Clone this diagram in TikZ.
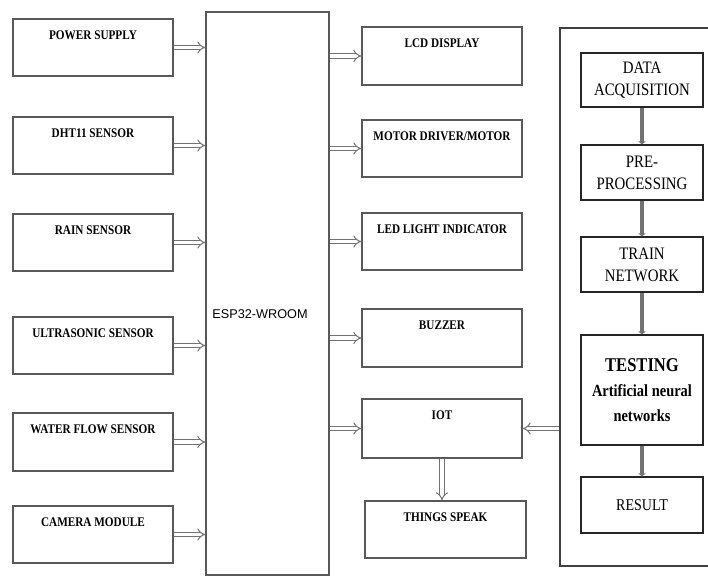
\documentclass[tikz,border=0pt]{standalone}
\usepackage{fontspec}
\setmainfont{Liberation Serif}
\newfontfamily\espfont{Liberation Sans}
\newfontfamily\narrowfont[FakeStretch=0.85]{Liberation Serif}
\usetikzlibrary{arrows.meta}

\begin{document}
\begin{tikzpicture}[x=1pt, y=-1pt,
  blk/.style={draw=black!65, line width=1.1pt, minimum width=160pt, minimum height=57pt, inner sep=0pt,
    label={[anchor=center, yshift=-17pt, font=\narrowfont\fontsize{13.2}{14}\selectfont\bfseries]north:#1}},
  stage/.style={draw=black!85, line width=1.1pt, minimum width=122pt, minimum height=55pt, align=center,
    font=\narrowfont\fontsize{17.5}{22}\selectfont},
  dbl/.style={draw=black!55, double=white, double distance=3.2pt, line width=1pt, -{Implies}},
  flw/.style={draw=black!55, line width=3.5pt, -{Triangle[length=3pt, width=7pt]}}]

\useasboundingbox (0,0) rectangle (708,577);

%Sensors
\node[blk=POWER SUPPLY] (ps) at (93,47.5) {};
\node[blk=DHT11 SENSOR] (dht) at (93,145.5) {};
\node[blk=RAIN SENSOR] (rain) at (93,242.5) {};
\node[blk=ULTRASONIC SENSOR] (ultra) at (93,345.5) {};
\node[blk=WATER FLOW SENSOR, minimum height=58pt] (water) at (93,442) {};
\node[blk=CAMERA MODULE] (cam) at (93,534.5) {};

%Controller
\node[draw=black!65, line width=1.1pt, minimum width=123pt, minimum height=563pt] (esp) at (267.5,293.5) {};
\node[font=\espfont\fontsize{12.7}{14}\selectfont] (esplbl) at (260,314) {ESP32-WROOM};

%Outputs
\node[blk=LCD DISPLAY, minimum height=58pt] (lcd) at (442,56) {};
\node[blk=MOTOR DRIVER/MOTOR] (motor) at (442,148.5) {};
\node[blk=LED LIGHT INDICATOR] (led) at (442,241.5) {};
\node[blk=BUZZER, minimum height=58pt] (buzz) at (442,338) {};
\node[blk=IOT, minimum height=59pt] (iot) at (442,428.5) {};
\node[blk=THINGS SPEAK, minimum width=161pt] (ts) at (445.5,529.5) {};

%% Neural network panel
\node[draw=black!75, line width=1.1pt, minimum width=160pt, minimum height=538pt] (ann) at (640,297) {};
\node[stage, minimum height=54pt] (acq) at (642,80) {DATA\\ACQUISITION};
\node[stage] (pre) at (642,172.5) {PRE-\\PROCESSING};
\node[stage] (train) at (642,264.5) {TRAIN\\NETWORK};
\node[stage, minimum height=110pt, font=\narrowfont\fontsize{17}{25}\selectfont\bfseries] (test) at (642,390)
  {{\fontsize{19.5}{25}\selectfont TESTING}\\Artificial neural\\networks};
\node[stage, minimum height=56pt, font=\narrowfont\fontsize{16.5}{18}\selectfont] (res) at (642,505) {RESULT};

\foreach \n in {ps,dht,rain,ultra,water,cam}
  \draw[dbl] (\n.east) -- (\n.east -| esp.west);
\foreach \n in {lcd,motor,led,buzz,iot}
  \draw[dbl] (esp.east |- \n.west) -- (\n.west);
\draw[dbl] (iot.south) -- (iot.south |- ts.north);
\draw[dbl] (ann.west |- iot.east) -- (iot.east);
\foreach \a/\b in {acq/pre, pre/train, train/test, test/res}
  \draw[flw] (\a.south) -- (\a.south |- \b.north);

\end{tikzpicture}
\end{document}
